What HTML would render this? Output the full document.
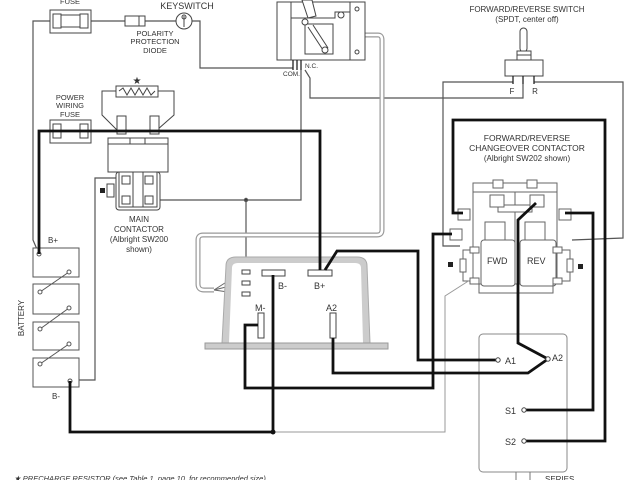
<!DOCTYPE html>
<html><head><meta charset="utf-8"><style>
html,body{margin:0;padding:0;background:#fff;}
svg{display:block;}
text{font-family:"Liberation Sans",sans-serif;fill:#333;}
</style></head><body>
<svg width="640" height="480" viewBox="0 0 640 480" xmlns="http://www.w3.org/2000/svg">
<g fill="none" stroke="#555" stroke-width="1.2">
<polyline points="50,21 33,21 33,240 39,254"/>
<line x1="91" y1="21" x2="125" y2="21"/>
<line x1="145" y1="21" x2="176" y2="21"/>
<polyline points="192,21 200,21 200,68 293,68"/>
<polyline points="301,70 301,200 160,200"/>
<circle cx="246" cy="200" r="1.6" fill="#333"/>
<line x1="246" y1="200" x2="246" y2="272"/>
<polyline points="305,70 310,78 310,98 523,98 523,84"/>
<polyline points="513,82 443,82 443,246 460,246"/>
<polyline points="534,82 623,82 623,238 572,240"/>
<polyline points="124,178 95,178 95,380 79,380"/>
</g>
<g fill="none">
<path d="M365,35 H378 Q382,35 382,40 V230 Q382,235 377,235 H203 Q198,235 198,240 V284 Q198,290 204,290 H214" stroke="#999" stroke-width="5"/>
<path d="M365,35 H378 Q382,35 382,40 V230 Q382,235 377,235 H203 Q198,235 198,240 V284 Q198,290 204,290 H214" stroke="#fff" stroke-width="2.6"/>
<polyline points="214,290 242,283" stroke="#666"/>
<polyline points="214,290 242,294" stroke="#666"/>
<polyline points="214,290 242,272" stroke="#666"/>
</g>
<g stroke="#444" fill="none">
<rect x="50" y="10" width="41" height="23"/>
<rect x="56" y="15" width="30" height="12"/>
<rect x="53" y="14" width="8" height="14" fill="#fff"/>
<rect x="80" y="14" width="8" height="14" fill="#fff"/>
<rect x="125" y="16" width="20" height="10" fill="#fff"/>
<line x1="139" y1="16" x2="139" y2="26"/>
<circle cx="184" cy="21" r="8" fill="#fff"/>
<line x1="184" y1="16" x2="184" y2="27"/>
<circle cx="184" cy="17" r="2"/>
</g>
<g font-size="7.5" text-anchor="middle">
<text x="70" y="4">FUSE</text>
<text x="187" y="9" font-size="9">KEYSWITCH</text>
<text x="155" y="36">POLARITY</text>
<text x="155" y="44">PROTECTION</text>
<text x="155" y="53">DIODE</text>
<text x="70" y="100">POWER</text>
<text x="70" y="108">WIRING</text>
<text x="70" y="117">FUSE</text>
</g>
<g stroke="#444" fill="#fff">
<rect x="277" y="2" width="88" height="58"/>
<line x1="291" y1="2" x2="291" y2="60"/>
<line x1="350" y1="2" x2="350" y2="60"/>
<polyline points="291,18 335,18 335,12 350,12" fill="none"/>
<rect x="305" y="24" width="28" height="30" fill="none"/>
<line x1="308" y1="27" x2="323" y2="50"/>
<line x1="313" y1="25" x2="328" y2="48"/>
<circle cx="325" cy="50" r="3"/>
<circle cx="305" cy="22" r="3"/>
<circle cx="341" cy="15" r="3"/>
<circle cx="357" cy="9" r="2"/>
<circle cx="357" cy="52" r="2"/>
<path d="M302,0 L312,0 L316,16 L308,18 Z"/>
</g>
<g stroke="#222" stroke-width="1.3"><line x1="293" y1="60" x2="293" y2="70"/><line x1="297" y1="60" x2="297" y2="70"/><line x1="301" y1="60" x2="301" y2="70"/></g>
<text x="283" y="76" font-size="6.5">COM.</text>
<text x="305" y="68" font-size="6.5">N.C.</text>
<g stroke="#444" fill="#fff">
<rect x="520" y="28" width="7" height="24" rx="3.5"/>
<rect x="517" y="51" width="14" height="9"/>
<line x1="517" y1="55" x2="531" y2="55"/>
<rect x="505" y="60" width="38" height="16"/>
</g>
<g stroke="#222" stroke-width="1.3"><line x1="513" y1="76" x2="513" y2="84"/><line x1="523" y1="76" x2="523" y2="84"/><line x1="534" y1="76" x2="534" y2="84"/></g>
<g font-size="8" text-anchor="middle">
<text x="527" y="12">FORWARD/REVERSE SWITCH</text>
<text x="527" y="22">(SPDT, center off)</text>
<text x="512" y="94">F</text><text x="535" y="94">R</text>
<text x="527" y="141" font-size="8.5">FORWARD/REVERSE</text>
<text x="527" y="151" font-size="8.5">CHANGEOVER CONTACTOR</text>
<text x="527" y="161">(Albright SW202 shown)</text>
<text x="139" y="222" font-size="8">MAIN</text>
<text x="139" y="232" font-size="8">CONTACTOR</text>
<text x="139" y="242">(Albright SW200</text>
<text x="139" y="252">shown)</text>
</g>
<g stroke="#444" fill="#fff">
<polyline points="116,91 102,91 102,115 117,130" fill="none"/>
<polyline points="158,91 174,91 174,115 157,130" fill="none"/>
<rect x="116" y="86" width="42" height="11"/>
<polyline points="119,91 123,88 127,95 131,88 135,95 139,88 143,95 147,88 151,95 155,91" fill="none"/>
<rect x="117" y="116" width="9" height="18"/>
<rect x="150" y="116" width="9" height="18"/>
<rect x="108" y="138" width="60" height="34"/>
<line x1="108" y1="144" x2="168" y2="144"/>
<line x1="130" y1="138" x2="130" y2="144"/><line x1="145" y1="138" x2="145" y2="144"/>
<rect x="116" y="172" width="44" height="38" rx="3"/>
<rect x="119" y="172" width="38" height="35"/>
<line x1="133" y1="172" x2="133" y2="207"/><line x1="143" y1="172" x2="143" y2="207"/>
<rect x="122" y="176" width="8" height="8"/><rect x="145" y="176" width="8" height="8"/>
<rect x="122" y="196" width="8" height="8"/><rect x="145" y="196" width="8" height="8"/>
<rect x="107" y="184" width="7" height="13"/>
</g>
<rect x="100" y="188" width="5" height="5" fill="#222"/>
<text x="137" y="84" font-size="10" text-anchor="middle" fill="#222">★</text>
<g stroke="#444" fill="#fff">
<rect x="50" y="120" width="41" height="23"/>
<rect x="53" y="124" width="8" height="14"/>
<rect x="80" y="124" width="8" height="14"/>
</g>
<g stroke="#555" fill="#fff">
<rect x="33" y="248" width="46" height="29"/>
<rect x="33" y="284" width="46" height="30"/>
<rect x="33" y="322" width="46" height="28"/>
<rect x="33" y="358" width="46" height="29"/>
<line x1="40" y1="292" x2="69" y2="272"/>
<line x1="40" y1="329" x2="69" y2="308"/>
<line x1="40" y1="364" x2="69" y2="344"/>
<circle cx="39" cy="254" r="2"/><circle cx="69" cy="272" r="2"/>
<circle cx="40" cy="292" r="2"/><circle cx="69" cy="308" r="2"/>
<circle cx="40" cy="329" r="2"/><circle cx="69" cy="344" r="2"/>
<circle cx="40" cy="364" r="2"/><circle cx="70" cy="381" r="2"/>
</g>
<text x="48" y="243" font-size="8">B+</text>
<text x="52" y="399" font-size="8">B-</text>
<text x="24" y="318" font-size="8" transform="rotate(-90 24 318)" text-anchor="middle">BATTERY</text>
<path d="M222,343 L226,266 Q226,257 236,257 H357 Q367,257 367,266 L370,343 Z" fill="#ccc" stroke="#aaa"/>
<path d="M229,343 L232,268 Q232,263 238,263 H355 Q361,263 361,268 L363,343 Z" fill="#fff"/>
<rect x="205" y="343" width="183" height="6" fill="#ccc" stroke="#999"/>
<g stroke="#444" fill="#fff">
<rect x="242" y="270" width="8" height="4"/><rect x="242" y="281" width="8" height="4"/><rect x="242" y="292" width="8" height="4"/>
<rect x="262" y="270" width="23" height="6"/>
<rect x="308" y="270" width="24" height="6"/>
<rect x="258" y="313" width="6" height="25"/>
<rect x="330" y="313" width="6" height="25"/>
</g>
<g font-size="9"><text x="278" y="289">B-</text><text x="314" y="289">B+</text><text x="255" y="311">M-</text><text x="326" y="311">A2</text></g>
<g stroke="#666" fill="#fff">
<rect x="473" y="183" width="84" height="9"/>
<rect x="473" y="192" width="84" height="92"/>
<line x1="515" y1="192" x2="515" y2="284"/>
<rect x="485" y="222" width="20" height="18"/><rect x="525" y="222" width="20" height="18"/>
<rect x="481" y="240" width="34" height="46" rx="3"/>
<rect x="520" y="240" width="36" height="46" rx="3"/>
<rect x="498" y="205" width="34" height="7"/>
<rect x="490" y="195" width="14" height="12"/><rect x="530" y="195" width="14" height="12"/>
<rect x="493" y="180" width="10" height="8"/><rect x="527" y="180" width="10" height="8"/>
<rect x="458" y="209" width="12" height="11"/>
<rect x="450" y="229" width="12" height="11"/>
<rect x="559" y="209" width="12" height="11"/>
<rect x="470" y="247" width="9" height="6"/><rect x="470" y="278" width="9" height="6"/>
<rect x="553" y="247" width="9" height="6"/><rect x="553" y="278" width="9" height="6"/>
<polyline points="470,250 463,250 463,281 470,281" fill="none"/>
<polyline points="562,250 570,250 570,281 562,281" fill="none"/>
<rect x="460" y="259" width="6" height="13"/><rect x="567" y="259" width="6" height="13"/>
<polyline points="479,284 479,293 553,293 553,284" fill="none"/>
</g>
<rect x="448" y="262" width="5" height="5" fill="#222"/>
<rect x="578" y="264" width="5" height="5" fill="#222"/>
<g font-size="9"><text x="487" y="264">FWD</text><text x="527" y="264">REV</text></g>
<polyline points="273,432 445,432 445,296 470,280" fill="none" stroke="#999"/>
<rect x="479" y="334" width="88" height="138" rx="4" fill="none" stroke="#888"/>
<g stroke="#777" fill="none"><line x1="516" y1="472" x2="516" y2="480"/><line x1="530" y1="472" x2="530" y2="480"/></g>
<text x="545" y="482" font-size="8">SERIES</text>
<g fill="none" stroke="#111" stroke-width="2.8">
<polyline points="39,254 39,131 320,131 320,270"/>
<polyline points="325,270 337,251 418,251 418,360 497,360"/>
<polyline points="70,381 70,432 273,432 273,275"/>
<polyline points="258,325 245,325 245,388 433,388 433,234 452,234"/>
<polyline points="333,338 333,373 528,373 548,359"/>
<polyline points="536,203 518,220 518,343 548,359"/>
<polyline points="463,213 453,213 453,120 605,120 605,441 524,441"/>
<polyline points="565,213 593,213 593,410 524,410"/>
</g>
<circle cx="273" cy="432" r="2.5" fill="#111"/>
<g stroke="#444" fill="#fff"><circle cx="498" cy="360" r="2.2"/><circle cx="548" cy="359" r="2.2"/><circle cx="524" cy="410" r="2.2"/><circle cx="524" cy="441" r="2.2"/></g>
<g font-size="9"><text x="505" y="364">A1</text><text x="552" y="361">A2</text><text x="505" y="414">S1</text><text x="505" y="445">S2</text></g>
<text x="14" y="481" font-size="7.5" font-style="italic">★   PRECHARGE RESISTOR (see Table 1, page 10, for recommended size)</text>
</svg>
</body></html>
